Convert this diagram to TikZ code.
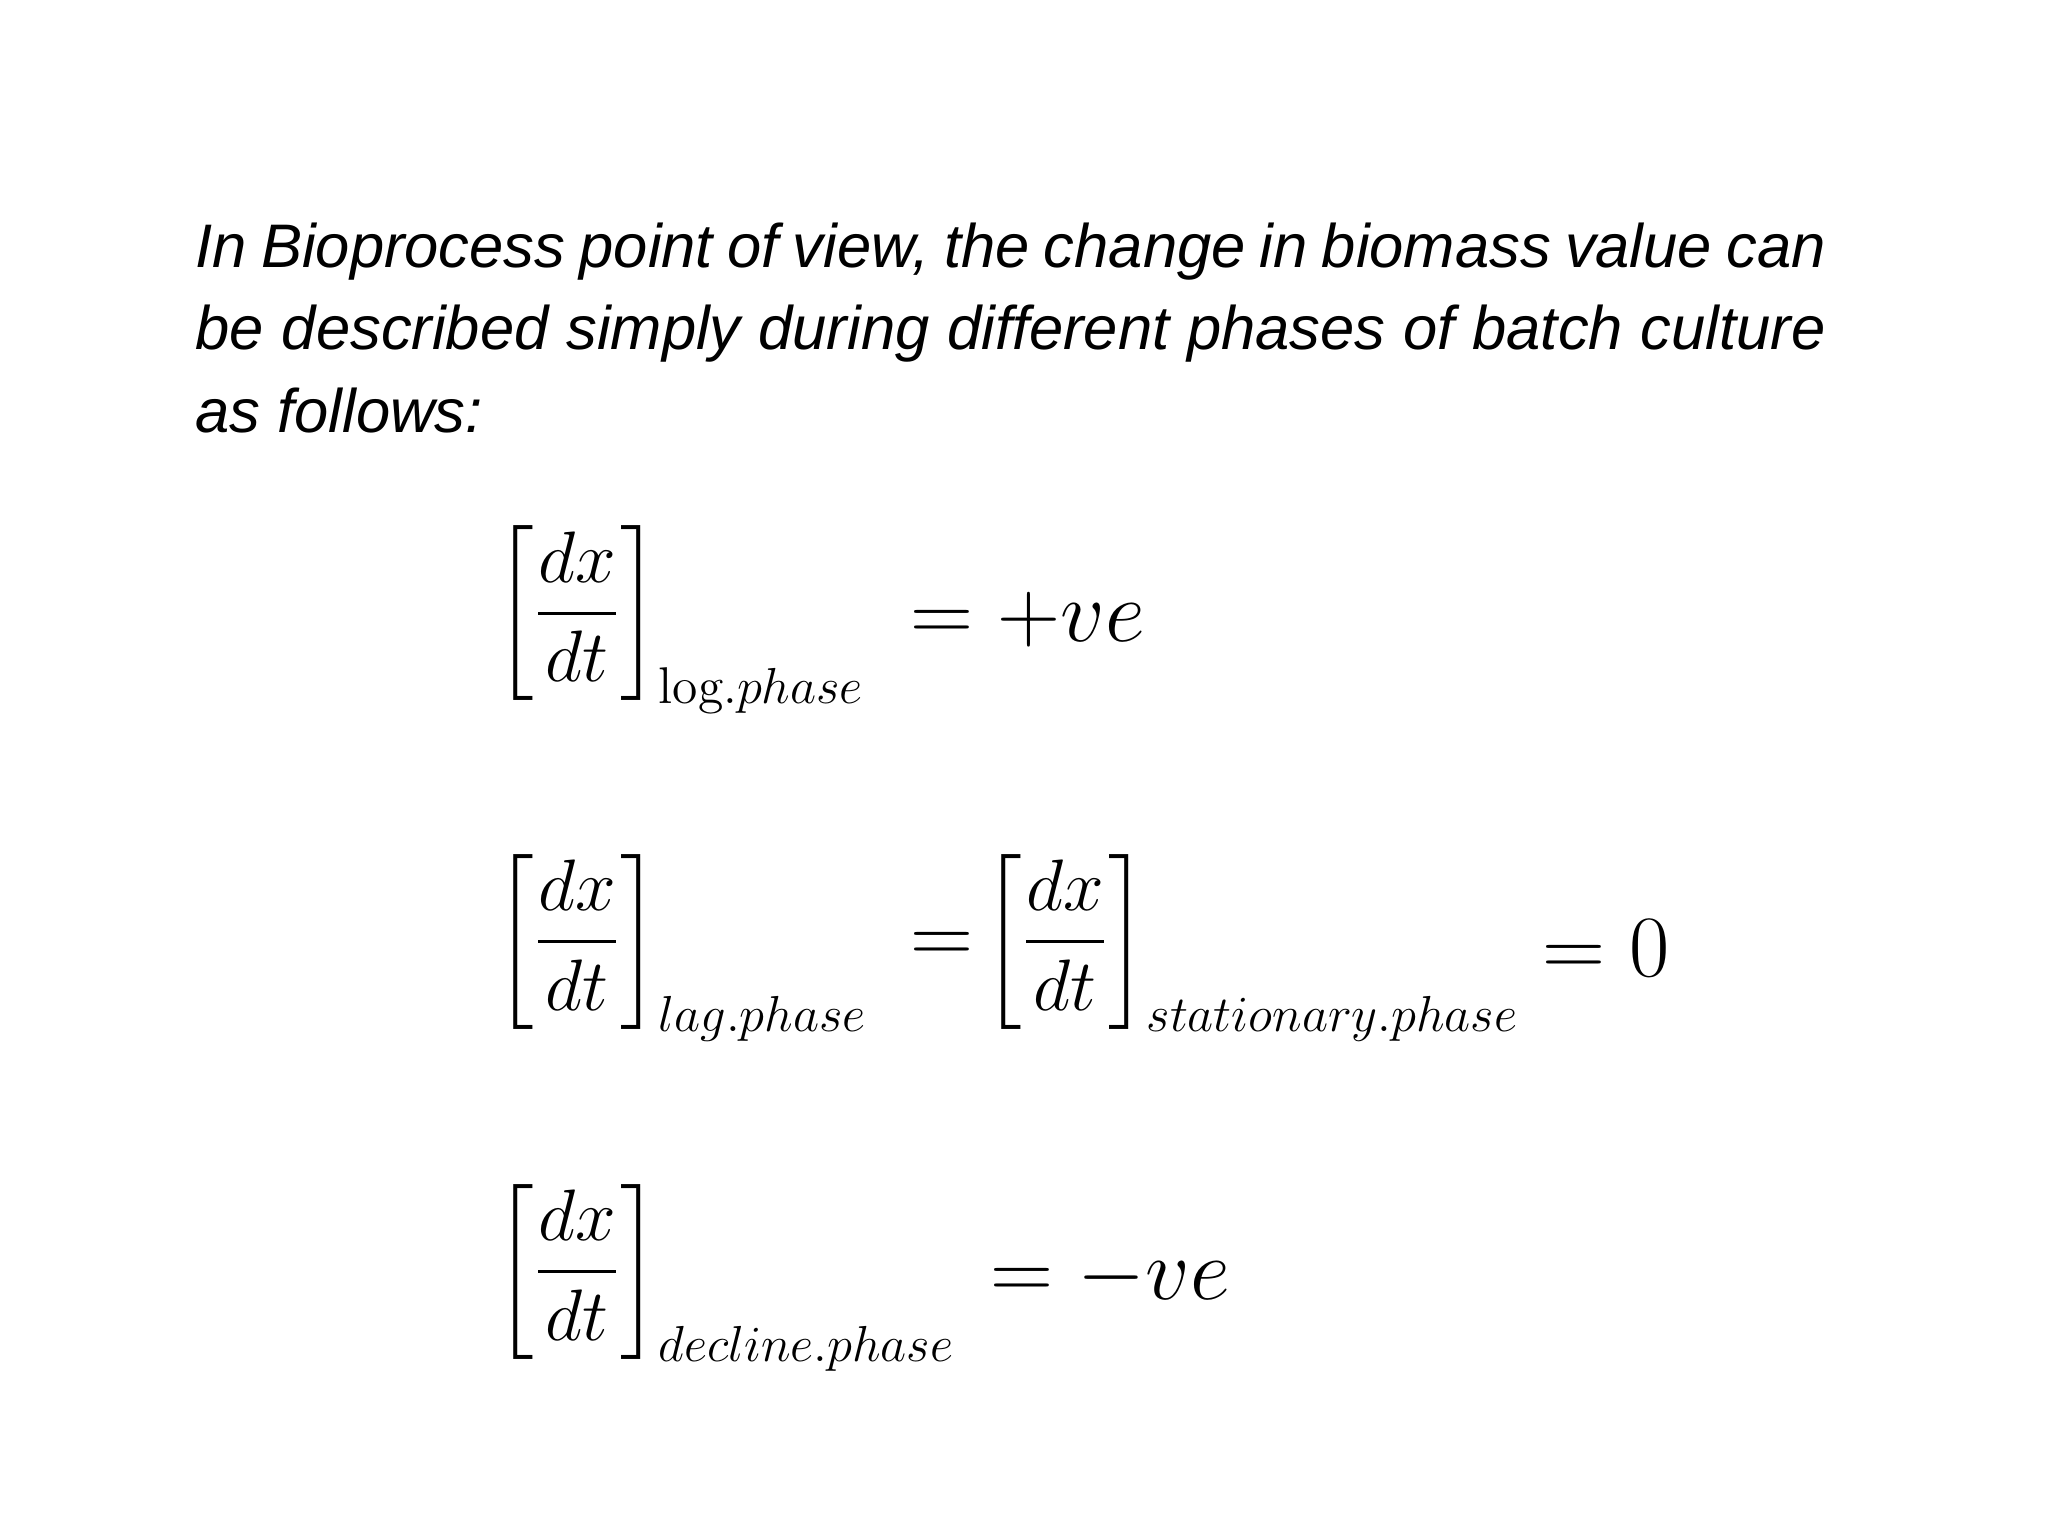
\documentclass[tikz,border=0pt]{standalone}
\usepackage{amsmath}
\usepackage{fontspec}
\newfontfamily\slidefont{Liberation Sans}
\tikzset{eqn/.style={anchor=west, inner sep=0pt, font=\fontsize{21}{25}\selectfont},
  rhs/.style={anchor=west, inner sep=0pt, font=\fontsize{24}{28}\selectfont}}
\begin{document}
\begin{tikzpicture}
\useasboundingbox (0,0) rectangle (20.48,-15.36);
\node (intro) [anchor=north west, inner sep=0pt, text width=16.3cm, align=justify,
  font=\slidefont\itshape\fontsize{17.5}{23.5}\selectfont] at (1.95,-2.22)
  {In Bioprocess point of view, the change in biomass value can be described simply during different phases of batch culture as follows:};
% log phase
\node (logp) [eqn] at (4.95,-6.2) {$\left[\dfrac{dx}{dt}\right]_{\mathrm{log}.phase}$};
\node (logr) [rhs] at (9.1,-6.2) {$=+ve$};
% lag and stationary phase
\node (lagp) [eqn] at (4.95,-9.48) {$\left[\dfrac{dx}{dt}\right]_{lag.phase}$};
\node (lagr) [rhs] at (9.1,-9.48) {$=$};
\node (statp) [eqn] at (9.83,-9.48) {$\left[\dfrac{dx}{dt}\right]_{stationary.phase}$};
\node (statr) [rhs] at (15.42,-9.48) {$=0$};
% decline phase
\node (decp) [eqn] at (4.95,-12.78) {$\left[\dfrac{dx}{dt}\right]_{decline.phase}$};
\node (decr) [rhs] at (9.9,-12.78) {$=-ve$};
\end{tikzpicture}
\end{document}
